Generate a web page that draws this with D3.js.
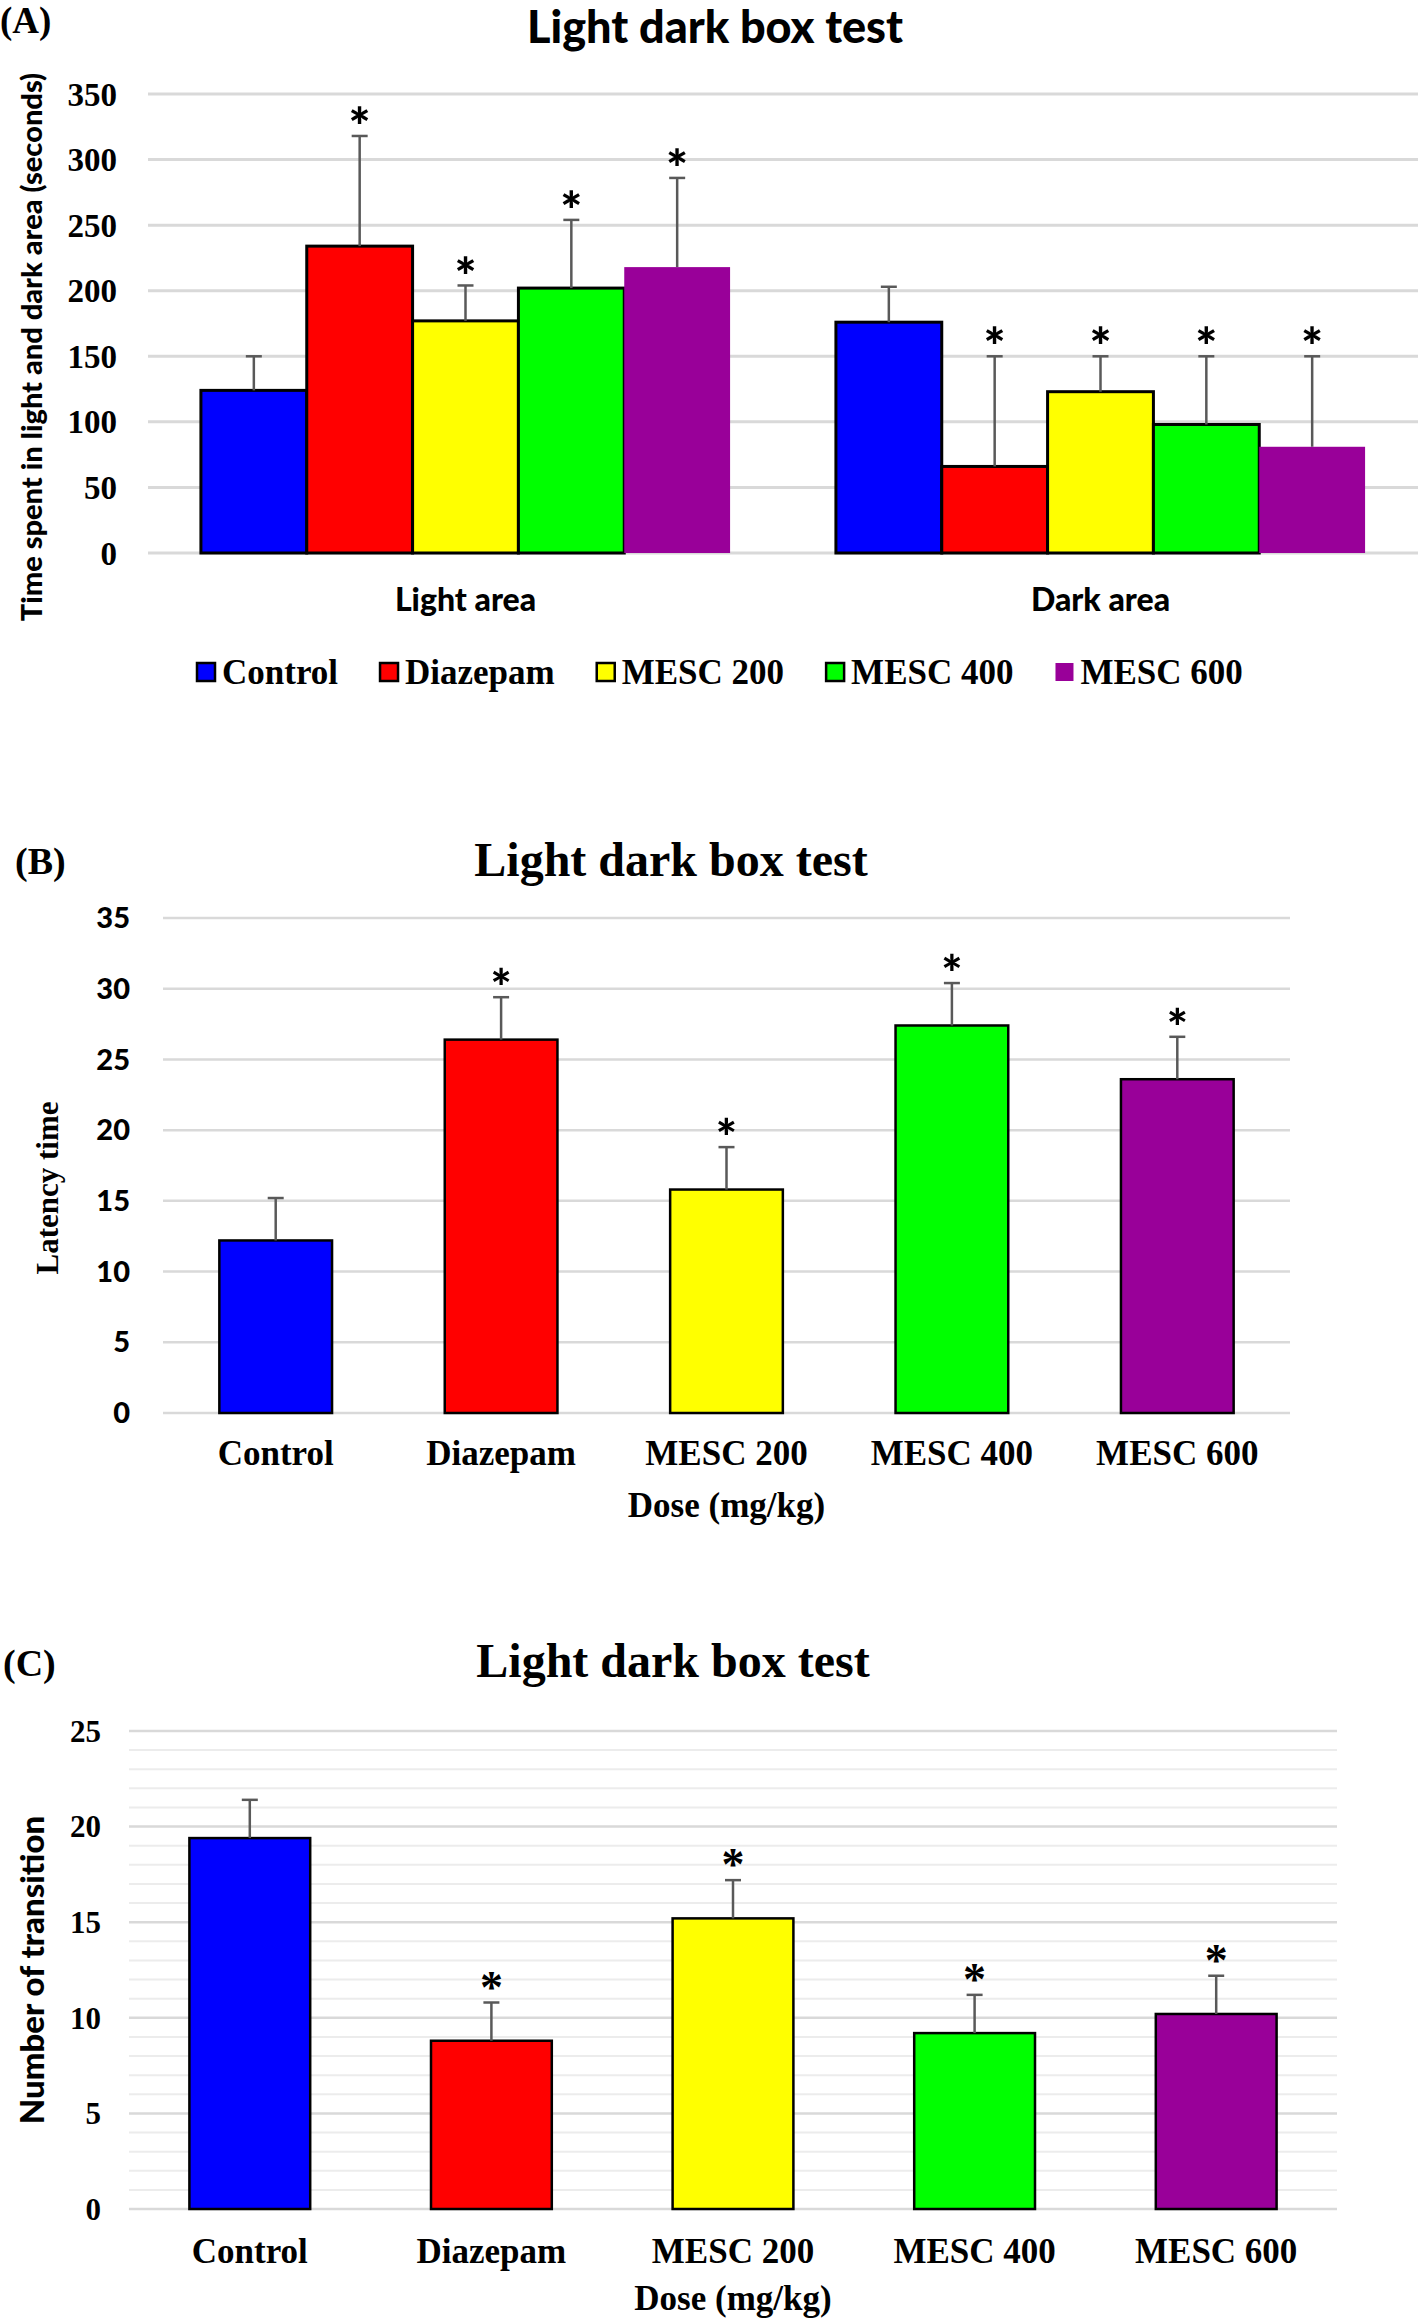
<!DOCTYPE html>
<html>
<head>
<meta charset="utf-8">
<script src="https://cdn.jsdelivr.net/npm/d3@7"></script>
<style>
  body { margin: 0; background: #fff; }
  svg { display: block; }
  .serif { font-family: "Liberation Serif", "Times New Roman", serif; font-weight: bold; }
  .sans { font-family: Lato, "Open Sans", sans-serif; font-weight: 900; }
</style>
</head>
<body>
<svg id="chart" width="1418" height="2320"></svg>
<script>
// data
const areas = ['Light area', 'Dark area'];
const treatments = ['Control', 'Diazepam', 'MESC 200', 'MESC 400', 'MESC 600'];
const fills = ['#0000ff', '#ff0000', '#ffff00', '#00ff00', '#990099'];

const lightTime = [124, 234, 177, 202, 218];
const lightErr = [26, 84, 27, 52, 68];
const darkTime = [176, 66, 123, 98, 81];
const darkErr = [27, 84, 27, 52, 69];
const timeSig = [false, true, true, true, true];
const timeTicks = [0, 50, 100, 150, 200, 250, 300, 350];

const latency = [12.2, 26.4, 15.8, 27.4, 23.6];
const latencyErr = [3, 3, 3, 3, 3];
const latencySig = [false, true, true, true, true];
const latencyTicks = [0, 5, 10, 15, 20, 25, 30, 35];

const transitions = [19.4, 8.8, 15.2, 9.2, 10.2];
const transitionErr = [2, 2, 2, 2, 2];
const transitionSig = [false, true, true, true, true];
const transitionTicks = [0, 5, 10, 15, 20, 25];

const svg = d3.select('#chart');
const GRID = '#d9d9d9';
const ERR = '#595959';

function errorBar(g, cx, yBar, yCap) {
  g.append('line').attr('x1', cx).attr('x2', cx).attr('y1', yBar).attr('y2', yCap)
    .attr('stroke', ERR).attr('stroke-width', 2.5);
  g.append('line').attr('x1', cx - 8).attr('x2', cx + 8).attr('y1', yCap).attr('y2', yCap)
    .attr('stroke', ERR).attr('stroke-width', 2.5);
}

// ---------- (A) grouped bars ----------
{
  const g = svg.append('g');
  const x0 = d3.scaleBand().domain(areas).range([148, 1418]);
  const x1 = d3.scaleBand().domain(treatments).range([0, x0.bandwidth()]).paddingOuter(0.5);
  const y = d3.scaleLinear().domain([0, 350]).range([553, 94]);

  g.append('text').attr('class', 'serif').attr('x', 0).attr('y', 33)
    .style('font-size', '37px').text('(A)');
  g.append('text').attr('class', 'sans').attr('x', 715).attr('y', 43)
    .attr('text-anchor', 'middle').style('font-size', '45px').text('Light dark box test');

  g.append('g').selectAll('line').data(timeTicks).join('line')
    .attr('x1', 148).attr('x2', 1418)
    .attr('y1', (d) => y(d)).attr('y2', (d) => y(d))
    .attr('stroke', GRID).attr('stroke-width', 3);

  g.append('g').selectAll('text').data(timeTicks).join('text')
    .attr('class', 'serif').attr('x', 117).attr('y', (d) => y(d)).attr('dy', '0.35em')
    .attr('text-anchor', 'end').style('font-size', '33px').text((d) => d);

  g.append('text').attr('class', 'sans')
    .attr('transform', 'translate(32,347) rotate(-90)').attr('dy', '0.35em')
    .attr('text-anchor', 'middle').style('font-size', '29px')
    .text('Time spent in light and dark area (seconds)');

  const rows = [];
  areas.forEach((a, ai) => {
    const vals = ai === 0 ? lightTime : darkTime;
    const errs = ai === 0 ? lightErr : darkErr;
    treatments.forEach((t, i) => rows.push({ a, t, i, v: vals[i], e: errs[i], sig: timeSig[i] }));
  });

  g.append('g').selectAll('rect').data(rows).join('rect')
    .attr('x', (d) => x0(d.a) + x1(d.t)).attr('width', x1.bandwidth())
    .attr('y', (d) => y(d.v)).attr('height', (d) => y(0) - y(d.v))
    .attr('fill', (d) => fills[d.i])
    .attr('stroke', (d) => (d.i === 4 ? 'none' : '#000')).attr('stroke-width', 3);

  const eg = g.append('g');
  rows.forEach((d) => {
    const cx = x0(d.a) + x1(d.t) + x1.bandwidth() / 2;
    errorBar(eg, cx, y(d.v), y(d.v + d.e));
    if (d.sig) {
      eg.append('text').attr('class', 'sans').attr('x', cx).attr('y', y(d.v + d.e) - 22)
        .attr('dy', '0.6em').attr('text-anchor', 'middle').style('font-size', '52px').text('*');
    }
  });

  g.append('g').selectAll('text').data(areas).join('text')
    .attr('class', 'sans').attr('x', (d) => x0(d) + x0.bandwidth() / 2).attr('y', 611)
    .attr('text-anchor', 'middle').style('font-size', '32px').text((d) => d);

  // legend
  const lg = g.append('g');
  let lx = 197;
  treatments.forEach((t, i) => {
    lg.append('rect').attr('x', lx).attr('y', 663).attr('width', 18).attr('height', 18)
      .attr('fill', fills[i]).attr('stroke', i === 4 ? 'none' : '#000').attr('stroke-width', 2.5);
    const txt = lg.append('text').attr('class', 'serif').attr('x', lx + 25).attr('y', 684)
      .style('font-size', '35px').text(t);
    lx += 25 + txt.node().getComputedTextLength() + 42;
  });
}

// ---------- (B) and (C) simple bars ----------
function simplePanel(o) {
  const g = svg.append('g');
  const x = d3.scaleBand().domain(treatments).range(o.xRange).paddingInner(0.5).paddingOuter(0.25);
  const y = d3.scaleLinear().domain([0, o.ticks[o.ticks.length - 1]]).range(o.yRange);

  g.append('text').attr('class', 'serif').attr('x', o.tagX).attr('y', o.tagY)
    .style('font-size', '38px').text(o.tag);
  g.append('text').attr('class', 'serif').attr('x', o.titleX).attr('y', o.titleY)
    .attr('text-anchor', 'middle').style('font-size', '48px').text('Light dark box test');

  if (o.minor) {
    g.append('g').selectAll('line').data(y.ticks(25).filter((d) => d % 5 !== 0)).join('line')
      .attr('x1', o.xRange[0]).attr('x2', o.xRange[1])
      .attr('y1', (d) => y(d)).attr('y2', (d) => y(d))
      .attr('stroke', '#ececec').attr('stroke-width', 2);
  }
  g.append('g').selectAll('line').data(o.ticks).join('line')
    .attr('x1', o.xRange[0]).attr('x2', o.xRange[1])
    .attr('y1', (d) => y(d)).attr('y2', (d) => y(d))
    .attr('stroke', GRID).attr('stroke-width', 2.5);

  g.append('g').selectAll('text').data(o.ticks).join('text')
    .attr('class', o.tickClass).attr('x', o.tickX).attr('y', (d) => y(d)).attr('dy', '0.35em')
    .attr('text-anchor', 'end').style('font-size', o.tickSize).text((d) => d);

  g.append('text').attr('class', o.yTitleClass)
    .attr('transform', `translate(${o.yTitleX},${o.yTitleY}) rotate(-90)`).attr('dy', '0.35em')
    .attr('text-anchor', 'middle').style('font-size', o.yTitleSize).text(o.yTitle);

  g.append('g').selectAll('rect').data(o.values).join('rect')
    .attr('x', (d, i) => x(treatments[i])).attr('width', x.bandwidth())
    .attr('y', (d) => y(d)).attr('height', (d) => y(0) - y(d))
    .attr('fill', (d, i) => fills[i]).attr('stroke', '#000').attr('stroke-width', 2.5);

  const eg = g.append('g');
  o.values.forEach((v, i) => {
    const cx = x(treatments[i]) + x.bandwidth() / 2;
    const cap = y(v + o.errs[i]);
    errorBar(eg, cx, y(v), cap);
    if (o.sig[i]) {
      eg.append('text').attr('class', o.starClass).attr('x', cx).attr('y', cap - o.starGap)
        .attr('dy', o.starDy).attr('text-anchor', 'middle').style('font-size', o.starSize).text('*');
    }
  });

  g.append('g').selectAll('text').data(treatments).join('text')
    .attr('class', 'serif').attr('x', (d) => x(d) + x.bandwidth() / 2).attr('y', o.labelY)
    .attr('text-anchor', 'middle').style('font-size', '35px').text((d) => d);

  g.append('text').attr('class', 'serif').attr('x', (o.xRange[0] + o.xRange[1]) / 2)
    .attr('y', o.doseY).attr('text-anchor', 'middle').style('font-size', '35px').text('Dose (mg/kg)');
}

simplePanel({
  tag: '(B)', tagX: 15, tagY: 874, titleX: 671, titleY: 876,
  xRange: [163, 1290], yRange: [1413, 918], ticks: latencyTicks,
  values: latency, errs: latencyErr, sig: latencySig,
  tickClass: 'sans', tickX: 130, tickSize: '29px',
  yTitle: 'Latency time', yTitleClass: 'serif', yTitleSize: '31px', yTitleX: 47, yTitleY: 1188,
  starClass: 'sans', starGap: 21, starDy: '0.6em', starSize: '50px',
  labelY: 1465, doseY: 1517, minor: false
});

simplePanel({
  tag: '(C)', tagX: 3, tagY: 1676, titleX: 673, titleY: 1677,
  xRange: [129, 1337], yRange: [2209, 1731], ticks: transitionTicks,
  values: transitions, errs: transitionErr, sig: transitionSig,
  tickClass: 'serif', tickX: 101, tickSize: '31px',
  yTitle: 'Number of transition', yTitleClass: 'sans', yTitleSize: '33px', yTitleX: 32, yTitleY: 1970,
  starClass: 'serif', starGap: 25, starDy: '0.55em', starSize: '46px',
  labelY: 2263, doseY: 2310, minor: true
});
</script>
</body>
</html>
